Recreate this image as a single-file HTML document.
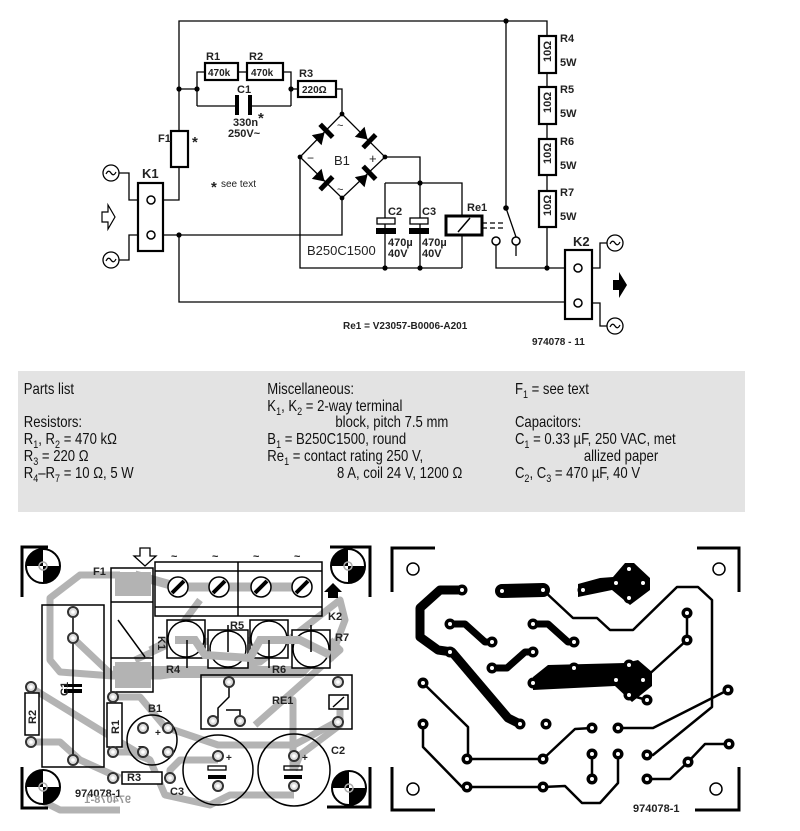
<!DOCTYPE html>
<html><head><meta charset="utf-8"><style>
html,body{margin:0;padding:0;background:#fff;}
svg{display:block;}
.l{font-family:"Liberation Sans",sans-serif;font-weight:bold;font-size:11px;fill:#222;}
.p{font-family:"Liberation Sans",sans-serif;font-size:16px;fill:#111;}
</style></head><body>
<svg width="800" height="831" viewBox="0 0 800 831" xmlns="http://www.w3.org/2000/svg">
<defs>
<g id="ac"><circle r="8" fill="#fff" stroke="#000" stroke-width="1.3"/><path d="M-5,1 q2.5,-5 5,-1 t5,-1" fill="none" stroke="#000" stroke-width="1.2"/></g>
<g id="dio"><polygon points="-6,-7 -6,7 5,0" fill="#000"/><rect x="5" y="-9" width="5" height="18" fill="#000"/></g>
<g id="tgt"><circle r="17" fill="#fff" stroke="#000" stroke-width="2"/><path d="M0,0 L-17,0 A17,17 0 0 1 0,-17 Z M0,0 L17,0 A17,17 0 0 1 0,17 Z" fill="#000"/><circle r="4" fill="none" stroke="#aaa" stroke-width="1.5"/></g>
<g id="pd"><circle r="5" fill="#ddd" stroke="#333" stroke-width="2"/><circle r="1.8" fill="#fff"/></g>
<g id="bp"><circle r="5.5" fill="#000"/><circle r="2" fill="#fff"/></g>
</defs>

<!-- ============ SCHEMATIC ============ -->
<g fill="none" stroke="#000" stroke-width="1.3">
<polyline points="179,131 179,21 547,21 547,268"/>
<polyline points="179,167 179,200 151,200"/>
<polyline points="151,235 342,235 342,198"/>
<polyline points="179,235 179,302 578,302"/>
<polyline points="119,173 129,173 129,200 138,200"/>
<polyline points="119,260 129,260 129,235 138,235"/>
<polyline points="197,106 197,72 205,72"/>
<line x1="238" y1="72" x2="247" y2="72"/>
<polyline points="283,72 291,72 291,106"/>
<line x1="179" y1="89" x2="197" y2="89"/>
<line x1="291" y1="89" x2="298" y2="89"/>
<polyline points="197,106 237,106"/>
<polyline points="250,106 291,106"/>
<polyline points="336,89 342,89 342,114"/>
<polygon points="342,114 385,157 342,198 300,157"/>
<polyline points="300,157 300,268 462,268"/>
<polyline points="385,157 420,157 420,183"/>
<polyline points="385,183 462,183 462,215"/>
<line x1="462" y1="235" x2="462" y2="268"/>
<line x1="385" y1="183" x2="385" y2="268"/>
<line x1="420" y1="183" x2="420" y2="268"/>
<line x1="506" y1="21" x2="506" y2="208"/>
<line x1="506" y1="208" x2="516" y2="237"/>
<line x1="516" y1="245" x2="516" y2="256"/>
<polyline points="496,245 496,268 578,268"/>
<polyline points="592,268 600,268 600,243 607,243"/>
<polyline points="592,303 600,303 600,326 607,326"/>
</g>
<g stroke="#000" stroke-width="1.3" stroke-dasharray="5,3"><line x1="482" y1="223" x2="504" y2="223"/><line x1="482" y1="228" x2="504" y2="228"/></g>
<g fill="#000">
<circle cx="506" cy="21" r="2.6"/><circle cx="179" cy="89" r="2.6"/><circle cx="197" cy="89" r="2.6"/><circle cx="291" cy="89" r="2.6"/>
<circle cx="179" cy="235" r="2.6"/><circle cx="342" cy="114" r="2.4"/><circle cx="300" cy="157" r="2.4"/><circle cx="385" cy="157" r="2.4"/><circle cx="342" cy="198" r="2.4"/>
<circle cx="420" cy="183" r="2.6"/><circle cx="385" cy="268" r="2.6"/><circle cx="420" cy="268" r="2.6"/><circle cx="547" cy="268" r="2.6"/><circle cx="506" cy="208" r="2.8"/>
</g>
<g fill="#fff" stroke="#000" stroke-width="1.5"><circle cx="496" cy="241" r="4"/><circle cx="516" cy="241" r="4"/></g>
<!-- components -->
<g fill="#fff" stroke="#000" stroke-width="2.2">
<rect x="171" y="131" width="17" height="36"/>
<rect x="138" y="183" width="25" height="68"/>
<rect x="565" y="250" width="27" height="69"/>
<rect x="205" y="63" width="33" height="17"/>
<rect x="247" y="63" width="36" height="17"/>
<rect x="298" y="81" width="38" height="16"/>
<rect x="539" y="36" width="17" height="37"/>
<rect x="539" y="87" width="17" height="37"/>
<rect x="539" y="139" width="17" height="36"/>
<rect x="539" y="191" width="17" height="36"/>
<rect x="446" y="216" width="36" height="19" stroke-width="3"/>
</g>
<line x1="458" y1="232" x2="470" y2="218" stroke="#000" stroke-width="1.5"/>
<g fill="#fff" stroke="#000" stroke-width="1.5"><circle cx="151" cy="200" r="4"/><circle cx="151" cy="235" r="4"/><circle cx="578" cy="268" r="4"/><circle cx="578" cy="303" r="4"/></g>
<rect x="235" y="95" width="4" height="20" fill="#000"/><rect x="248" y="95" width="4" height="20" fill="#000"/>
<rect x="377" y="218" width="18" height="6" fill="#fff" stroke="#000" stroke-width="1.3"/><rect x="376" y="228" width="20" height="6" fill="#000"/>
<rect x="410" y="218" width="18" height="6" fill="#fff" stroke="#000" stroke-width="1.3"/><rect x="409" y="228" width="20" height="6" fill="#000"/>
<use href="#dio" transform="translate(321,136) rotate(-44)"/>
<use href="#dio" transform="translate(364,136) rotate(44)"/>
<use href="#dio" transform="translate(321,178) rotate(44)"/>
<use href="#dio" transform="translate(364,178) rotate(-44)"/>
<use href="#ac" x="111" y="173"/><use href="#ac" x="111" y="260"/><use href="#ac" x="615" y="243"/><use href="#ac" x="615" y="326"/>
<polygon points="102,212 108,212 108,205 115,217 108,229 108,222 102,222" fill="#fff" stroke="#000" stroke-width="1.2"/>
<polygon points="613,280 619,280 619,272 627,285 619,298 619,290 613,290" fill="#000"/>
<g class="l">
<text x="206" y="60">R1</text><text x="249" y="60">R2</text><text x="299" y="77">R3</text><text x="237" y="93">C1</text>
<text x="208" y="76" font-size="10">470k</text><text x="251" y="76" font-size="10">470k</text><text x="302" y="93" font-size="10">220Ω</text>
<text x="233" y="126">330n</text><text x="228" y="137">250V~</text><text x="258" y="123" font-size="15">*</text>
<text x="158" y="142">F1</text><text x="192" y="147" font-size="15">*</text>
<text x="211" y="192" font-size="15">*</text><text x="221" y="187" font-weight="normal" font-size="10">see text</text>
<text x="142" y="178" font-size="13">K1</text><text x="573" y="246" font-size="13">K2</text>
<text x="334" y="165" font-size="13" font-weight="normal">B1</text>
<text x="307" y="162" font-size="12" font-weight="normal">−</text><text x="369" y="163" font-size="13" font-weight="normal">+</text>
<text x="337" y="129" font-size="11" font-weight="normal">~</text><text x="337" y="193" font-size="11" font-weight="normal">~</text>
<text x="307" y="255" font-size="13" font-weight="normal">B250C1500</text>
<text x="388" y="215">C2</text><text x="422" y="215">C3</text>
<text x="388" y="246">470µ</text><text x="388" y="257">40V</text><text x="422" y="246">470µ</text><text x="422" y="257">40V</text>
<text x="467" y="211">Re1</text>
<text x="560" y="42">R4</text><text x="560" y="66">5W</text>
<text x="560" y="93">R5</text><text x="560" y="117">5W</text>
<text x="560" y="145">R6</text><text x="560" y="169">5W</text>
<text x="560" y="196">R7</text><text x="560" y="220">5W</text>
<text x="343" y="329" font-size="10">Re1 = V23057-B0006-A201</text>
<text x="532" y="345" font-size="10">974078 - 11</text>
</g>
<g class="l" font-size="9">
<text transform="translate(551,62) rotate(-90)">10Ω</text>
<text transform="translate(551,113) rotate(-90)">10Ω</text>
<text transform="translate(551,164) rotate(-90)">10Ω</text>
<text transform="translate(551,216) rotate(-90)">10Ω</text>
</g>

<!-- ============ PARTS LIST ============ -->
<rect x="18" y="371" width="727" height="141" fill="#e3e3e3"/>
<g class="p" transform="scale(0.82,1)">
<text x="29" y="394">Parts list</text>
<text x="29" y="427">Resistors:</text>
<text x="29" y="444">R<tspan font-size="11" dy="4">1</tspan><tspan dy="-4">, R</tspan><tspan font-size="11" dy="4">2</tspan><tspan dy="-4"> = 470 kΩ</tspan></text>
<text x="29" y="461">R<tspan font-size="11" dy="4">3</tspan><tspan dy="-4"> = 220 Ω</tspan></text>
<text x="29" y="478">R<tspan font-size="11" dy="4">4</tspan><tspan dy="-4">–R</tspan><tspan font-size="11" dy="4">7</tspan><tspan dy="-4"> = 10 Ω, 5 W</tspan></text>
<text x="326" y="394">Miscellaneous:</text>
<text x="326" y="411">K<tspan font-size="11" dy="4">1</tspan><tspan dy="-4">, K</tspan><tspan font-size="11" dy="4">2</tspan><tspan dy="-4"> = 2-way terminal</tspan></text>
<text x="409" y="427">block, pitch 7.5 mm</text>
<text x="326" y="444">B<tspan font-size="11" dy="4">1</tspan><tspan dy="-4"> = B250C1500, round</tspan></text>
<text x="326" y="461">Re<tspan font-size="11" dy="4">1</tspan><tspan dy="-4"> = contact rating 250 V,</tspan></text>
<text x="411" y="478">8 A, coil 24 V, 1200 Ω</text>
<text x="628" y="394">F<tspan font-size="11" dy="4">1</tspan><tspan dy="-4"> = see text</tspan></text>
<text x="628" y="427">Capacitors:</text>
<text x="628" y="444">C<tspan font-size="11" dy="4">1</tspan><tspan dy="-4"> = 0.33 µF, 250 VAC, met</tspan></text>
<text x="712" y="461">allized paper</text>
<text x="628" y="478">C<tspan font-size="11" dy="4">2</tspan><tspan dy="-4">, C</tspan><tspan font-size="11" dy="4">3</tspan><tspan dy="-4"> = 470 µF, 40 V</tspan></text>
</g>

<!-- ============ LEFT PCB (component side) ============ -->
<g fill="none" stroke="#b3b3b3" stroke-width="7" stroke-linejoin="round">
<polyline points="120,575 80,575 50,598 50,660 60,672 113,676"/>
<polyline points="73,638 113,676 160,676 260,662 340,600 345,620 330,660"/>
<polyline points="113,672 300,672 330,640" stroke-width="12"/>
<polyline points="135,575 178,587 302,587" stroke-width="9"/>
<polyline points="135,660 178,640 219,642 258,640 300,640"/>
<polyline points="30,687 100,730 150,760"/>
<polyline points="32,742 60,742 80,760 120,778"/>
<polyline points="113,697 140,697 165,727 218,745 294,745 340,720"/>
<polyline points="113,752 130,752 150,760 165,795 210,805 230,795 294,795"/>
<polyline points="255,725 340,650 330,640"/>
<polyline points="170,778 170,770 180,760 218,760"/>
<polyline points="240,663 230,650 240,640"/>
<polyline points="340,700 340,725 300,755 294,770"/>
<polyline points="280,700 293,700 293,770"/>
<polyline points="40,800 60,810 120,810"/>
<polyline points="200,600 170,640 150,650"/>
</g>
<g fill="#b3b3b3"><rect x="115" y="572" width="36" height="24"/><rect x="115" y="662" width="36" height="26"/></g>
<!-- brackets -->
<g stroke="#000" stroke-width="3" fill="none">
<polyline points="22,597 22,547 48,547"/><polyline points="330,547 370,547 370,597"/>
<polyline points="22,767 22,808 48,808"/><polyline points="327,807 370,807 370,767"/>
</g>
<use href="#tgt" x="43" y="566"/><use href="#tgt" x="348" y="566"/><use href="#tgt" x="43" y="787"/><use href="#tgt" x="349" y="788"/>
<!-- outlines -->
<g fill="none" stroke="#000" stroke-width="1.5">
<rect x="42" y="605" width="62" height="162"/>
<rect x="111" y="568" width="42" height="124"/>
<line x1="111" y1="602" x2="153" y2="602"/><line x1="111" y1="658" x2="153" y2="658"/>
<line x1="118" y1="620" x2="145" y2="657"/>
<rect x="25" y="693" width="14" height="42" fill="#fff"/>
<rect x="107" y="703" width="15" height="44" fill="#fff"/>
<rect x="122" y="772" width="40" height="12" fill="#fff"/>
<rect x="201" y="675" width="151" height="54"/>
<rect x="329" y="695" width="19" height="14" fill="#fff"/>
<line x1="333" y1="707" x2="344" y2="697"/>
<polyline points="229,682 229,697 218,708 218,720"/>
<polyline points="226,710 240,710 240,722"/>
<circle cx="152" cy="740" r="25"/>
<circle cx="218" cy="770" r="35"/>
<circle cx="294" cy="770" r="36"/>
<line x1="73" y1="612" x2="73" y2="760"/>
</g>
<rect x="155" y="562" width="167" height="54" fill="none" stroke="#000" stroke-width="1.5"/>
<line x1="155" y1="571" x2="322" y2="571" stroke="#000" stroke-width="1.5"/>
<line x1="155" y1="607" x2="322" y2="607" stroke="#000" stroke-width="1.5"/>
<line x1="238" y1="562" x2="238" y2="616" stroke="#000" stroke-width="1.5"/>
<g stroke="#000" stroke-width="1.5" fill="#fff">
<rect x="167" y="620" width="38" height="38"/><rect x="208" y="630" width="40" height="38"/>
<rect x="250" y="620" width="38" height="38"/><rect x="292" y="630" width="38" height="38"/>
<circle cx="186" cy="639" r="18"/><circle cx="228" cy="649" r="18"/><circle cx="269" cy="639" r="18"/><circle cx="311" cy="649" r="18"/>
</g>
<g stroke="#b3b3b3" stroke-width="8" fill="none"><polyline points="175,640 195,640 205,655 250,658 260,640 300,640 320,650 330,655"/></g>
<g stroke="#000" stroke-width="1.5">
<line x1="187" y1="640" x2="187" y2="668"/><line x1="228" y1="625" x2="228" y2="652"/><line x1="269" y1="640" x2="269" y2="668"/><line x1="311" y1="625" x2="311" y2="652"/>
</g>
<g stroke="#000" stroke-width="1.5" fill="#fff">
<circle cx="178" cy="587" r="10"/><circle cx="219" cy="587" r="10"/><circle cx="261" cy="587" r="10"/><circle cx="302" cy="587" r="10"/>
</g>
<g stroke="#000" stroke-width="4"><line x1="172" y1="593" x2="184" y2="581"/><line x1="213" y1="593" x2="225" y2="581"/><line x1="255" y1="593" x2="267" y2="581"/><line x1="296" y1="593" x2="308" y2="581"/></g>
<g class="l" font-weight="normal" font-size="12"><text x="171" y="560">~</text><text x="212" y="560">~</text><text x="253" y="560">~</text><text x="294" y="560">~</text></g>
<polygon points="140,548 150,548 150,556 156,556 145,566 134,556 140,556" fill="#fff" stroke="#000" stroke-width="1.3"/>
<polygon points="328,598 328,592 324,592 333,583 342,592 338,592 338,598" fill="#000"/>
<!-- capacitors symbols -->
<g fill="#000"><rect x="64" y="684" width="18" height="3"/><rect x="64" y="689" width="18" height="4"/></g>
<g fill="none" stroke="#000" stroke-width="1.3"><rect x="208" y="766" width="18" height="4"/><rect x="284" y="766" width="18" height="4"/></g>
<g fill="#000"><rect x="208" y="775" width="18" height="4"/><rect x="284" y="775" width="18" height="4"/></g>
<!-- pads -->
<use href="#pd" x="73" y="612"/><use href="#pd" x="73" y="638"/><use href="#pd" x="73" y="760"/>
<use href="#pd" x="31" y="687"/><use href="#pd" x="31" y="742"/>
<use href="#pd" x="113" y="697"/><use href="#pd" x="113" y="752"/>
<use href="#pd" x="113" y="778"/><use href="#pd" x="170" y="778"/>
<use href="#pd" x="143" y="728"/><use href="#pd" x="168" y="728"/><use href="#pd" x="143" y="752"/><use href="#pd" x="168" y="752"/>
<use href="#pd" x="229" y="682"/><use href="#pd" x="213" y="721"/><use href="#pd" x="240" y="721"/><use href="#pd" x="338" y="682"/><use href="#pd" x="338" y="722"/>
<use href="#pd" x="218" y="756"/><use href="#pd" x="218" y="786"/><use href="#pd" x="294" y="756"/><use href="#pd" x="294" y="786"/>
<g class="l" font-weight="normal" font-size="12">
<text x="93" y="575">F1</text><text x="328" y="620">K2</text>
<text x="166" y="673">R4</text><text x="230" y="629">R5</text><text x="272" y="673">R6</text><text x="335" y="641">R7</text>
<text x="272" y="704">RE1</text><text x="331" y="754">C2</text><text x="170" y="795">C3</text>
<text x="148" y="712">B1</text><text x="127" y="781" font-size="11">R3</text>
<text x="155" y="736" font-size="10">+</text><text x="138" y="750" font-size="10">−</text>
<text x="226" y="761" font-size="10">+</text><text x="302" y="761" font-size="10">+</text>
<text transform="translate(36,724) rotate(-90)" font-size="11">R2</text>
<text transform="translate(119,734) rotate(-90)" font-size="11">R1</text>
<text transform="translate(68,696) rotate(-90)" font-size="11">C1</text>
<text transform="translate(158,636) rotate(90)" font-size="11">K1</text>
</g>
<text x="75" y="797" class="l" font-size="13">974078-1</text>
<text transform="translate(131,803) scale(-1,1)" class="l" font-size="13" fill="#999" style="fill:#999">974078-1</text>

<!-- ============ RIGHT PCB (copper) ============ -->
<g stroke="#000" stroke-width="3" fill="none">
<polyline points="392,592 392,548 435,548"/><polyline points="697,548 739,548 739,592"/>
<polyline points="392,767 392,810 435,810"/><polyline points="695,810 739,810 739,767"/>
</g>
<g fill="none" stroke="#000" stroke-width="1.5"><circle cx="413" cy="569" r="6"/><circle cx="719" cy="569" r="6"/><circle cx="413" cy="789" r="6"/><circle cx="716" cy="789" r="6"/></g>
<g fill="none" stroke="#000" stroke-linejoin="round" stroke-linecap="round">
<polyline stroke-width="9" points="462,590 440,590 420,608 420,637 438,650 452,652 508,718 520,724"/>
<polyline stroke-width="14" points="502,591 543,590"/>
<polyline stroke-width="2.5" points="543,590 573,618 597,618 610,630 633,630 677,587 698,587 712,600 712,707 653,755 647,755"/>
<polyline stroke-width="7" points="450,624 465,624 485,642 492,642"/>
<polyline stroke-width="7" points="533,624 548,624 568,642 574,642"/>
<polyline stroke-width="7" points="492,668 507,668 525,652 533,652"/>
<polyline stroke-width="2.5" points="687,613 687,640 645,678"/>
<polyline stroke-width="2.5" points="728,690 653,728 618,728"/>
<polyline stroke-width="2.5" points="729,744 705,744 688,762 670,779 647,779"/>
<polyline stroke-width="2.5" points="592,754 592,779"/>
<polyline stroke-width="2.5" points="618,754 618,783 600,803 582,803 565,786 543,787"/>
<polyline stroke-width="2.5" points="423,724 423,747 462,787 543,787"/>
<polyline stroke-width="2.5" points="423,683 468,727 468,759 543,759 575,729 592,728"/>
<polyline stroke-width="2.5" points="629,695 647,700"/>
</g>
<polygon points="578,584 600,578 613,577 625,563 634,563 650,578 650,590 630,605 612,590 578,597" fill="#000"/>
<polygon points="533,677 548,665 625,663 638,660 652,672 652,686 632,702 615,686 533,690" fill="#000"/>
<use href="#bp" x="462" y="590"/><use href="#bp" x="502" y="591"/><use href="#bp" x="543" y="590"/>
<use href="#bp" x="583" y="590"/><use href="#bp" x="616" y="583"/><use href="#bp" x="629" y="569"/><use href="#bp" x="643" y="583"/><use href="#bp" x="629" y="598"/>
<use href="#bp" x="450" y="624"/><use href="#bp" x="492" y="642"/><use href="#bp" x="533" y="624"/><use href="#bp" x="574" y="642"/>
<use href="#bp" x="450" y="652"/><use href="#bp" x="492" y="668"/><use href="#bp" x="533" y="652"/>
<use href="#bp" x="687" y="613"/><use href="#bp" x="687" y="640"/>
<use href="#bp" x="574" y="668"/><use href="#bp" x="629" y="665"/><use href="#bp" x="616" y="680"/><use href="#bp" x="643" y="680"/><use href="#bp" x="629" y="695"/><use href="#bp" x="647" y="700"/>
<use href="#bp" x="533" y="683"/><use href="#bp" x="423" y="683"/><use href="#bp" x="423" y="724"/>
<use href="#bp" x="520" y="724"/><use href="#bp" x="546" y="724"/><use href="#bp" x="592" y="728"/><use href="#bp" x="618" y="728"/>
<use href="#bp" x="728" y="690"/><use href="#bp" x="467" y="759"/><use href="#bp" x="543" y="759"/>
<use href="#bp" x="592" y="754"/><use href="#bp" x="618" y="754"/><use href="#bp" x="647" y="755"/>
<use href="#bp" x="729" y="744"/><use href="#bp" x="688" y="762"/>
<use href="#bp" x="467" y="787"/><use href="#bp" x="543" y="787"/><use href="#bp" x="592" y="779"/><use href="#bp" x="647" y="779"/>
<text x="633" y="812" class="l" font-size="13">974078-1</text>
</svg>
</body></html>
